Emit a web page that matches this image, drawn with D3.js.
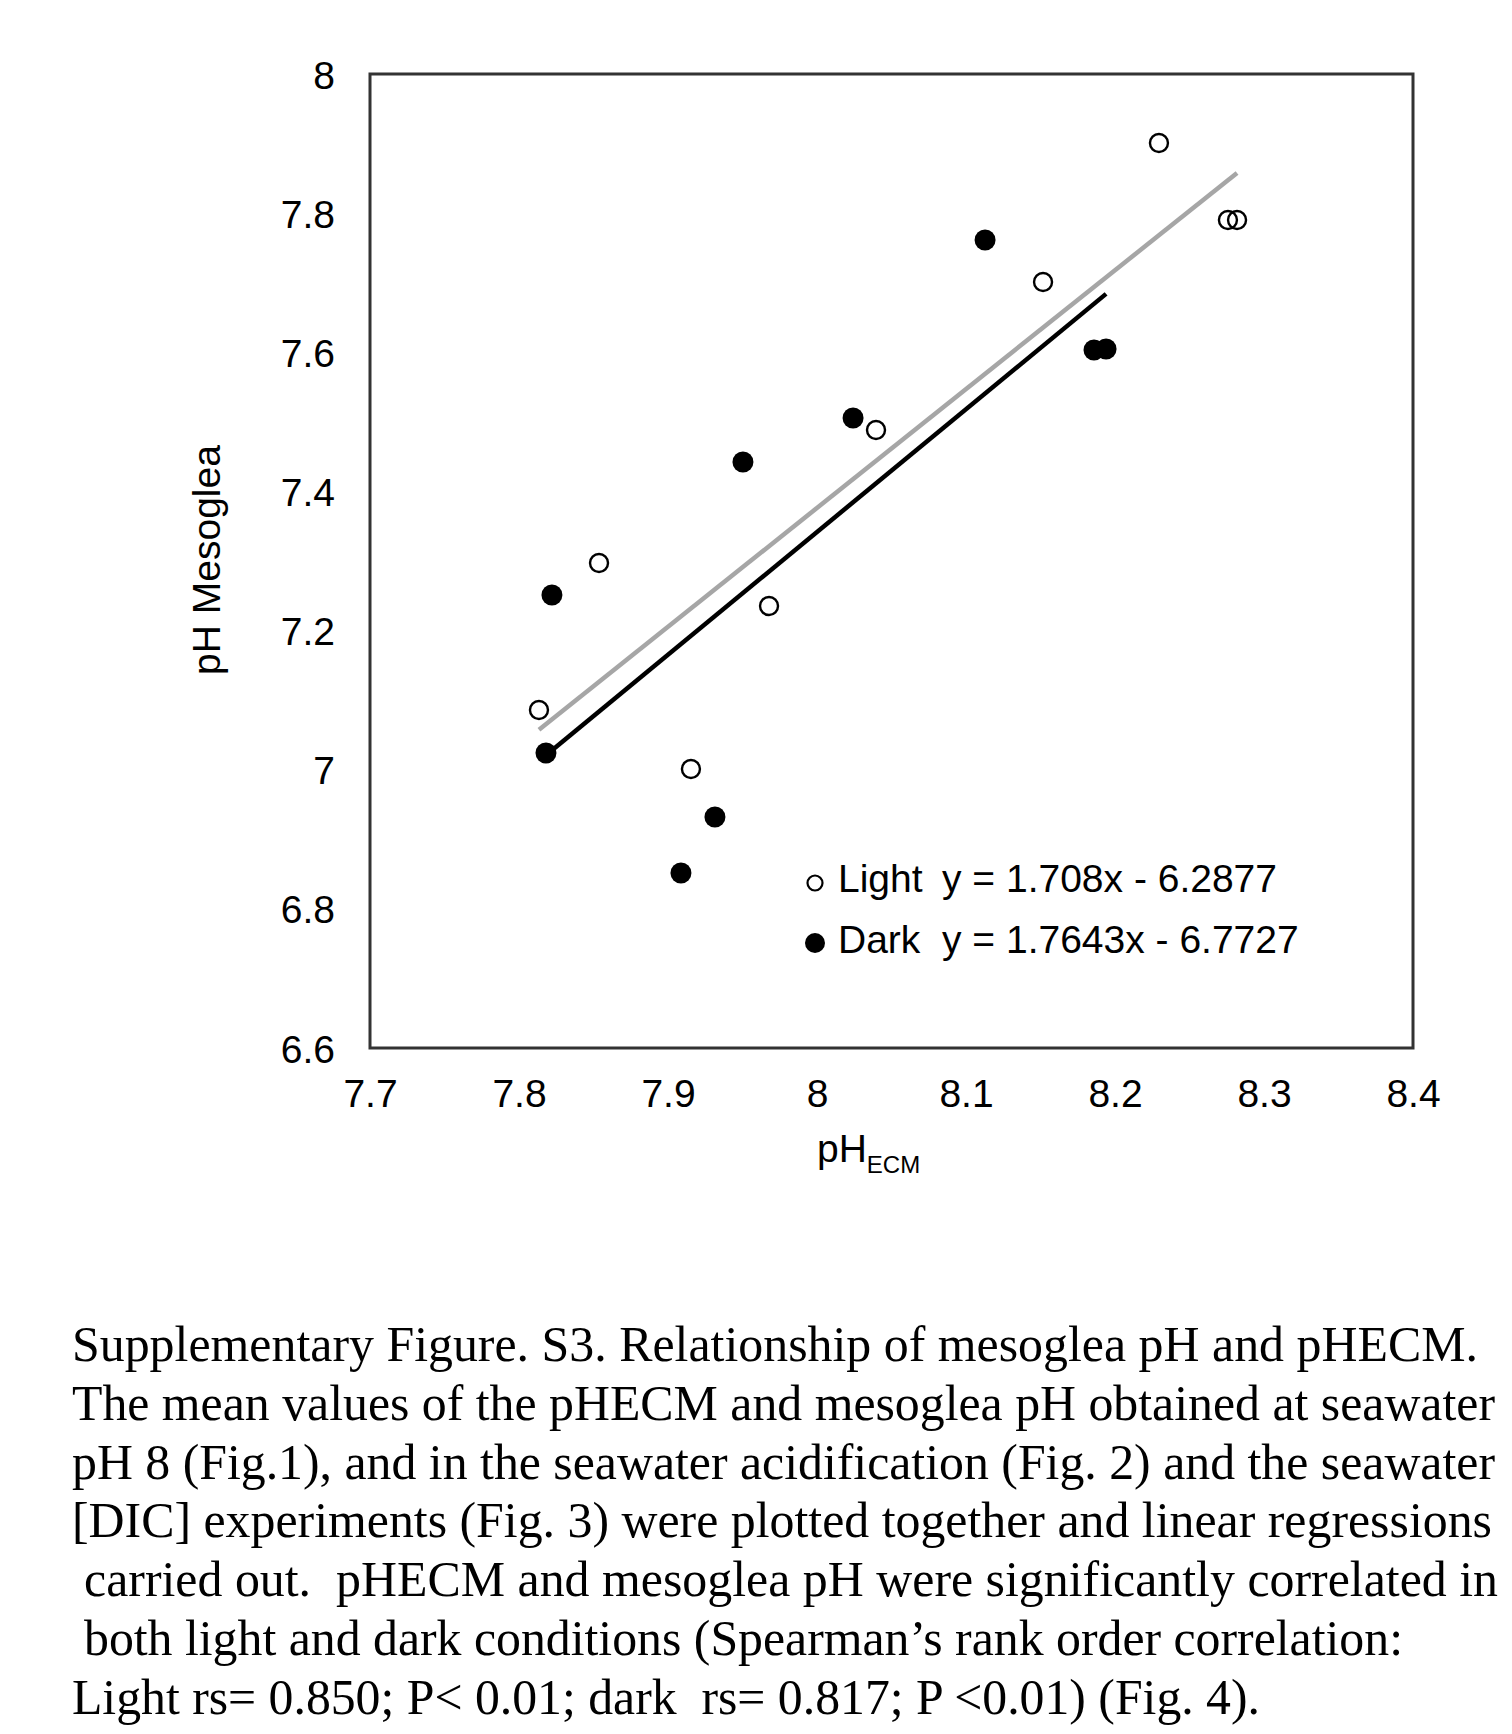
<!DOCTYPE html>
<html>
  <head>
    <meta charset="utf-8" />
    <title>Supplementary Figure S3</title>
    <style>
      body {
        margin: 0;
        background: #fff;
      }
      svg text {
        font-family: "Liberation Sans", Arial, sans-serif;
        fill: #000;
      }
      .caption {
        font-family: "Liberation Serif", "Times New Roman", serif !important;
        white-space: pre;
      }
    </style>
  </head>
  <body>
    <div id="chart"></div>

    <script src="https://cdn.jsdelivr.net/npm/d3@7/dist/d3.min.js"></script>
    <script>
      // data
      var lightX = [7.8134, 7.8537, 7.9154, 7.9678, 8.0396, 8.1517, 8.2295, 8.2758, 8.2819];
      var lightY = [7.0858, 7.2971, 7.0010, 7.2353, 7.4883, 7.7010, 7.9008, 7.7901, 7.7901];

      var darkX = [7.8181, 7.8221, 7.9087, 7.9315, 7.9503, 8.0242, 8.1128, 8.1859, 8.1940];
      var darkY = [7.0240, 7.2511, 6.8515, 6.9320, 7.4423, 7.5055, 7.7614, 7.6033, 7.6047];

      // trendline coefficients [slope, intercept] as printed in the legend
      var lightFit = [1.708, -6.2877];
      var darkFit = [1.7643, -6.7727];

      var xTicks = [7.7, 7.8, 7.9, 8, 8.1, 8.2, 8.3, 8.4];
      var yTicks = [6.6, 6.8, 7, 7.2, 7.4, 7.6, 7.8, 8];

      var legendNames = ["Light", "Dark"];
      var legendEquations = ["y = 1.708x - 6.2877", "y = 1.7643x - 6.7727"];

      var captionLines = [
        "Supplementary Figure. S3. Relationship of mesoglea pH and pHECM.",
        "The mean values of the pHECM and mesoglea pH obtained at seawater",
        "pH 8 (Fig.1), and in the seawater acidification (Fig. 2) and the seawater",
        "[DIC] experiments (Fig. 3) were plotted together and linear regressions",
        "carried out.  pHECM and mesoglea pH were significantly correlated in",
        "both light and dark conditions (Spearman\u2019s rank order correlation:",
        "Light rs= 0.850; P< 0.01; dark  rs= 0.817; P <0.01) (Fig. 4)."
      ];
      // where each caption line starts and ends on the page
      var captionStart = [72, 72, 72, 72, 84, 84, 72];
      var captionEnd = [1478, 1495, 1495, 1492, 1498, 1403, 1260];

      var width = 1512;
      var height = 1734;
      var plot = { left: 370, right: 1413, top: 74, bottom: 1048 };

      var svg = d3.select("#chart").append("svg")
        .attr("width", width)
        .attr("height", height);

      var x = d3.scaleLinear().domain([7.7, 8.4]).range([plot.left, plot.right]);
      var y = d3.scaleLinear().domain([6.6, 8]).range([plot.bottom, plot.top]);

      // axes: labels only, no tick marks or domain lines
      var xAxis = svg.append("g")
        .attr("transform", "translate(0," + plot.bottom + ")")
        .call(d3.axisBottom(x).tickValues(xTicks).tickSize(0).tickPadding(59)
          .tickFormat(d3.format("")));
      var yAxis = svg.append("g")
        .attr("transform", "translate(" + plot.left + ",0)")
        .call(d3.axisLeft(y).tickValues(yTicks).tickSize(0).tickPadding(35)
          .tickFormat(d3.format("")));

      [xAxis, yAxis].forEach(function(g) {
        g.select(".domain").remove();
        g.selectAll("text")
          .style("font-family", "'Liberation Sans', Arial, sans-serif")
          .style("font-size", "39px")
          .attr("fill", "#000");
      });
      xAxis.selectAll("text").attr("dy", 0);
      yAxis.selectAll("text").attr("dy", "0.36em");

      // plot frame
      svg.append("rect")
        .attr("x", plot.left)
        .attr("y", plot.top)
        .attr("width", plot.right - plot.left)
        .attr("height", plot.bottom - plot.top)
        .attr("fill", "none")
        .attr("stroke", "#333")
        .attr("stroke-width", 3);

      // trendlines spanning each series' x range
      function fitLine(xs, fit, color) {
        var x0 = d3.min(xs), x1 = d3.max(xs);
        svg.append("line")
          .attr("x1", x(x0)).attr("y1", y(fit[0] * x0 + fit[1]))
          .attr("x2", x(x1)).attr("y2", y(fit[0] * x1 + fit[1]))
          .attr("stroke", color)
          .attr("stroke-width", 4.5);
      }
      fitLine(lightX, lightFit, "#a6a6a6");
      fitLine(darkX, darkFit, "#000");

      // points
      svg.append("g").selectAll("circle")
        .data(d3.zip(darkX, darkY))
        .enter().append("circle")
        .attr("cx", function(d) { return x(d[0]); })
        .attr("cy", function(d) { return y(d[1]); })
        .attr("r", 10.5)
        .attr("fill", "#000");

      svg.append("g").selectAll("circle")
        .data(d3.zip(lightX, lightY))
        .enter().append("circle")
        .attr("cx", function(d) { return x(d[0]); })
        .attr("cy", function(d) { return y(d[1]); })
        .attr("r", 9)
        .attr("fill", "none")
        .attr("stroke", "#000")
        .attr("stroke-width", 2.4);

      // legend
      var legend = svg.append("g").attr("transform", "translate(815,883)");
      legendNames.forEach(function(name, i) {
        var row = legend.append("g").attr("transform", "translate(0," + i * 60 + ")");
        if (i === 0) {
          row.append("circle").attr("r", 7.5).attr("fill", "#fff")
            .attr("stroke", "#000").attr("stroke-width", 2.2);
        } else {
          row.append("circle").attr("r", 10).attr("fill", "#000");
        }
        row.append("text").attr("x", 23).attr("y", 9 + i)
          .style("font-size", "39px").text(name);
        row.append("text").attr("x", 127).attr("y", 9 + i)
          .style("font-size", "39px").text(legendEquations[i]);
      });

      // axis titles
      svg.append("text")
        .attr("transform", "translate(220,560) rotate(-90)")
        .attr("text-anchor", "middle")
        .style("font-size", "39px")
        .text("pH Mesoglea");

      var xTitle = svg.append("text")
        .attr("x", 817)
        .attr("y", 1162)
        .style("font-size", "39px");
      xTitle.append("tspan").text("pH");
      xTitle.append("tspan")
        .attr("dy", 11)
        .style("font-size", "24px")
        .text("ECM");

      // caption: glyphs in the original are a bit taller than wide,
      // so stretch each line vertically and fit it to its measured width
      svg.append("g").selectAll("text")
        .data(captionLines)
        .enter().append("text")
        .attr("class", "caption")
        .attr("transform", function(d, i) {
          return "translate(0," + (1361 + i * 58.8) + ") scale(1,1.1)";
        })
        .attr("x", function(d, i) { return captionStart[i]; })
        .attr("y", 0)
        .attr("textLength", function(d, i) { return captionEnd[i] - captionStart[i]; })
        .attr("lengthAdjust", "spacingAndGlyphs")
        .style("font-size", "46px")
        .text(function(d) { return d; });
    </script>
  </body>
</html>
